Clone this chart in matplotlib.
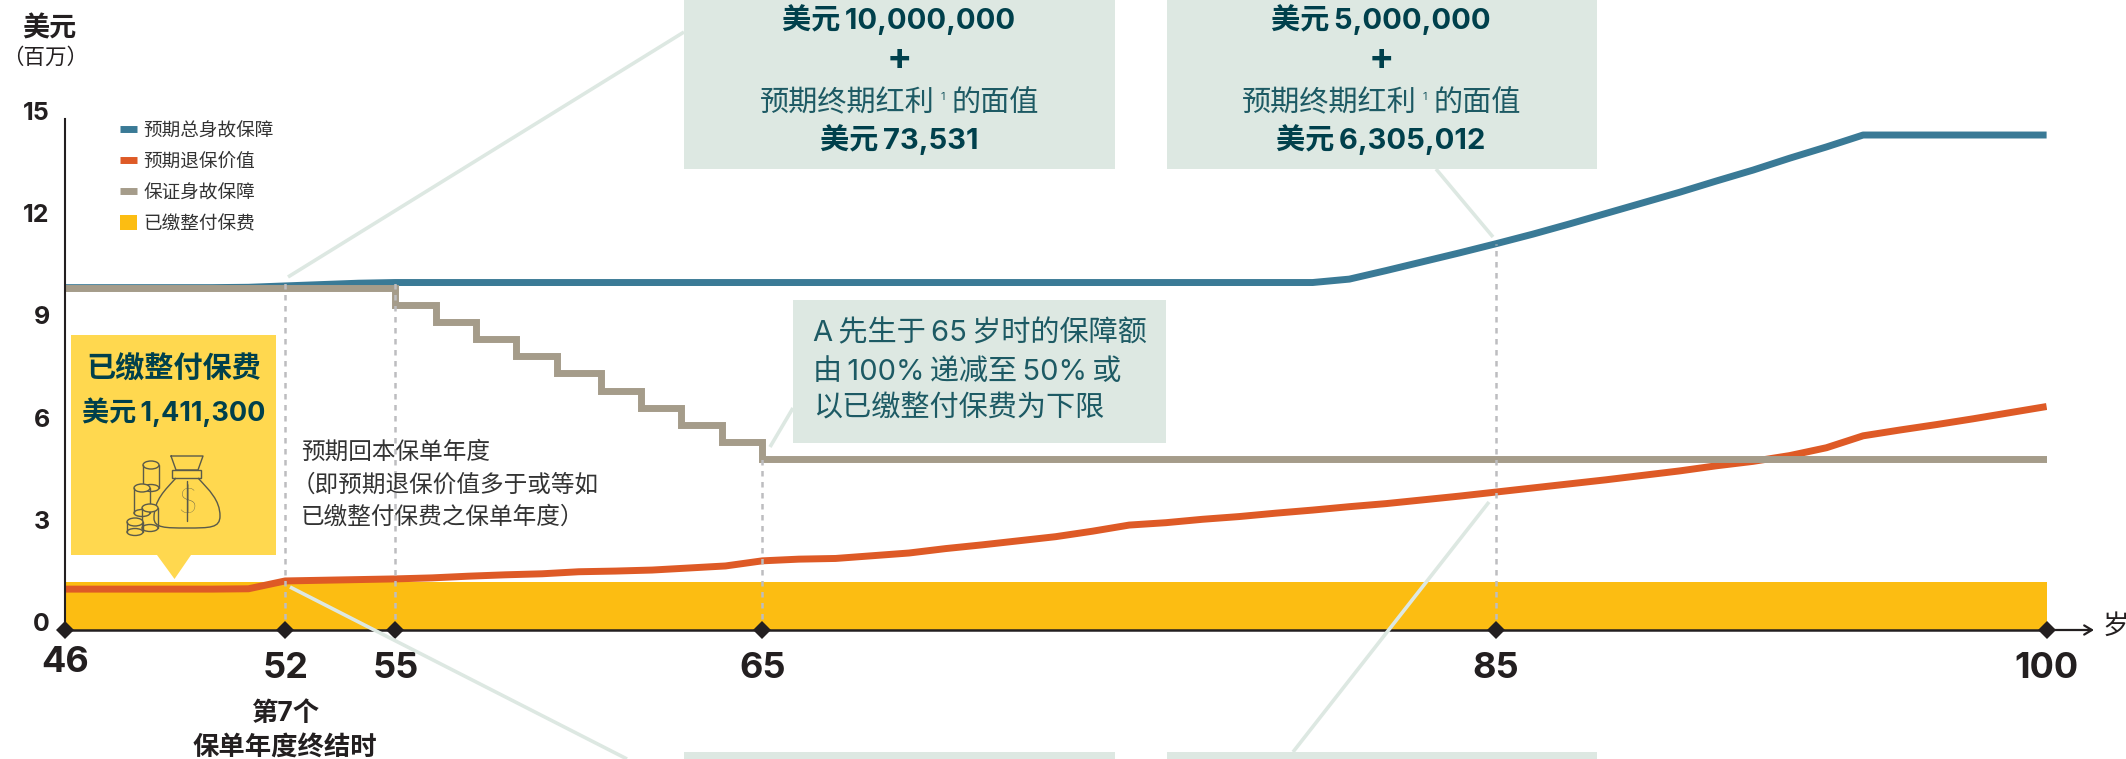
import matplotlib
matplotlib.use("Agg")
import matplotlib.pyplot as plt
import numpy as np
from matplotlib.lines import Line2D
from matplotlib.patches import Rectangle, Polygon, Ellipse, PathPatch, Patch
from matplotlib.path import Path
from matplotlib.transforms import ScaledTranslation

FONT = ['Inter', 'Noto Sans CJK SC', 'DejaVu Sans']
plt.rcParams['font.family'] = FONT

# ---------- data ----------
ages = list(range(46, 101))
total_benefit = [10.05, 10.05, 10.05, 10.05, 10.05, 10.06, 10.1, 10.14, 10.18, 10.2,
                 10.2, 10.2, 10.2, 10.2, 10.2, 10.2, 10.2, 10.2, 10.2, 10.2,
                 10.2, 10.2, 10.2, 10.2, 10.2, 10.2, 10.2, 10.2, 10.2, 10.2,
                 10.2, 10.2, 10.2, 10.2, 10.2, 10.3, 10.55, 10.81, 11.07, 11.34,
                 11.62, 11.92, 12.23, 12.54, 12.85, 13.18, 13.5, 13.85, 14.18, 14.53,
                 14.53, 14.53, 14.53, 14.53, 14.53]
surrender_value = [1.2, 1.2, 1.2, 1.2, 1.2, 1.21, 1.44, 1.46, 1.48, 1.5,
                   1.53, 1.58, 1.62, 1.65, 1.71, 1.73, 1.76, 1.82, 1.88, 2.03,
                   2.08, 2.1, 2.18, 2.26, 2.39, 2.5, 2.62, 2.74, 2.9, 3.08,
                   3.15, 3.25, 3.33, 3.43, 3.52, 3.62, 3.71, 3.82, 3.93, 4.05,
                   4.17, 4.29, 4.41, 4.54, 4.67, 4.82, 4.95, 5.12, 5.35, 5.7,
                   5.87, 6.03, 6.2, 6.38, 6.56]
guarantee_ages = [46, 55, 56.1, 57.2, 58.3, 59.4, 60.6, 61.7, 62.8, 63.9, 65, 100]
guarantee = [10.05, 9.53, 9.03, 8.53, 8.03, 7.53, 7.03, 6.53, 6.03, 5.53, 5.03, 5.03]
premium_ages = [46, 100]
premium = [1.4113, 1.4113]
x_ticks = [46, 52, 55, 65, 85, 100]
y_ticks = [0, 3, 6, 9, 12, 15]
guide_ages = [52, 55, 65, 85]
guide_tops = [10.2, 10.2, 5.03, 11.34]
legend_labels = ['预期总身故保障', '预期退保价值', '保证身故保障', '已缴整付保费']

TEAL = '#3A7A96'; ORANGE = '#DE5A26'; TAUPE = '#A59C8A'; GOLD = '#FCBD12'
YELLOW = '#FFD84F'; PALE = '#DDE8E2'; DARK = '#231F20'; INK = '#00404C'; INK2 = '#1D5A64'

W, H = 2126, 759
fig = plt.figure(figsize=(W / 100, H / 100), dpi=100, facecolor='white')
L, R, T, B = 65, 2046.6, 119, 630
ax = fig.add_axes([L / W, 1 - B / H, (R - L) / W, (B - T) / H], facecolor='none')
ax.set_xlim(46, 100); ax.set_ylim(0, 15)
for s in ('top', 'right'):
    ax.spines[s].set_visible(False)
ax.spines['left'].set_linewidth(1.5); ax.spines['left'].set_color(DARK)
ax.spines['bottom'].set_linewidth(1.8); ax.spines['bottom'].set_color(DARK)

ax.fill_between(premium_ages, 0, premium, color=GOLD, lw=0, zorder=1)
h_total, = ax.plot(ages, total_benefit, color=TEAL, lw=5, solid_capstyle='butt', zorder=2)
h_surr, = ax.plot(ages, surrender_value, color=ORANGE, lw=5, solid_capstyle='butt', zorder=2.1)
h_guar, = ax.plot(guarantee_ages, guarantee, color=TAUPE, lw=5, drawstyle='steps-post',
                  solid_capstyle='butt', solid_joinstyle='miter', zorder=2.2)
for a, t in zip(guide_ages, guide_tops):
    ax.plot([a, a], [0, t], color='#BDBDC0', lw=1.8, dashes=(2.2, 2.2), zorder=3)
ax.plot(x_ticks, [0] * len(x_ticks), 'D', color=DARK, ms=9, mew=0, clip_on=False, zorder=6)

ax.set_yticks(y_ticks); ax.set_xticks(x_ticks)
ax.tick_params(axis='both', length=0)
ax.tick_params(axis='y', pad=11, labelsize=18, labelcolor=DARK)
ax.tick_params(axis='x', pad=16, labelsize=26, labelcolor=DARK)
for lb in ax.get_yticklabels():
    lb.set_fontweight('bold')
    lb.set_transform(lb.get_transform() + ScaledTranslation(0, 0.08, fig.dpi_scale_trans))
for lb, tk in zip(ax.get_xticklabels(), x_ticks):
    lb.set_fontweight('bold')
    if tk == 46:
        lb.set_transform(lb.get_transform() + ScaledTranslation(0, 0.06, fig.dpi_scale_trans))

handles = [Line2D([], [], color=TEAL, lw=5, solid_capstyle='butt'),
           Line2D([], [], color=ORANGE, lw=5, solid_capstyle='butt'),
           Line2D([], [], color=TAUPE, lw=5, solid_capstyle='butt'),
           Patch(facecolor=GOLD, lw=0)]
leg = fig.legend(handles, legend_labels, loc='upper left',
                 bbox_to_anchor=(120 / W, 1 - 122 / H), bbox_transform=fig.transFigure,
                 frameon=False, fontsize=13.4, borderpad=0, borderaxespad=0,
                 handlelength=0.92, handleheight=0.92, handletextpad=0.33, labelspacing=0.68,
                 labelcolor='#333333')
leg.set_zorder(8)

# ---------- overlay in pixels for the callouts ----------
ov = fig.add_axes([0, 0, 1, 1], facecolor='none')
ov.set_xlim(0, W); ov.set_ylim(H, 0); ov.axis('off')

def box(x0, y0, x1, y1, c=PALE, z=5):
    ov.add_patch(Rectangle((x0, y0), x1 - x0, y1 - y0, fc=c, ec='none', zorder=z))

def link(x0, y0, x1, y1):
    ov.plot([x0, x1], [y0, y1], color=PALE, lw=2.6, solid_capstyle='butt', zorder=4)

def txt(x, y, s, size, weight='normal', color=INK, ha='center', **kw):
    ov.text(x, y + 2, s, fontsize=size, fontweight=weight, color=color, ha=ha, va='center',
            family=FONT, zorder=7, **kw)

link(288, 277, 684, 32)
link(290, 587, 627, 759)
link(1436, 169, 1493, 237)
link(770, 447, 793, 408)
link(1489, 502, 1293, 752)

box(684, 0, 1115, 169); box(1167, 0, 1597, 169); box(793, 300, 1166, 443)
box(684, 752, 1115, 759); box(1167, 752, 1597, 759)

THIN = '\u2009'
for cx, a, b in [(899, '美元' + THIN + '10,000,000', '美元' + THIN + '73,531'),
                 (1381, '美元' + THIN + '5,000,000', '美元' + THIN + '6,305,012')]:
    txt(cx, 18, a, 21, 'bold')
    txt(cx, 58, '+', 27, 'bold')
    txt(cx + 36, 102, '预期终期红利', 21, color=INK2, ha='right')
    txt(cx + 44, 95, '1', 8, color=INK2)
    txt(cx + 52, 102, '的面值', 21, color=INK2, ha='left')
    txt(cx, 138, b, 21, 'bold')

txt(813, 332, 'A' + THIN + '先生于' + THIN + '65' + THIN + '岁时的保障额', 21, color=INK2, ha='left')
txt(813, 370, '由' + THIN + '100%' + THIN + '递减至' + THIN + '50%' + THIN + '或', 21, color=INK2, ha='left')
txt(813, 407, '以已缴整付保费为下限', 21, color=INK2, ha='left')

# yellow premium callout
box(71, 335, 276, 555, YELLOW)
ov.add_patch(Polygon([(157, 555), (191, 555), (174.5, 579)], fc=YELLOW, ec='none', zorder=5))
txt(173.5, 368, '已缴整付保费', 21, 'bold')
txt(174, 410, '美元' + THIN + '1,411,300', 19.5, 'bold')

# money-bag icon
ic = dict(color='#5A5A4A', lw=1.0, zorder=7, solid_capstyle='round')
ov.plot([171, 203, 198, 176, 171], [456, 456, 470, 470, 456], **ic)
ov.add_patch(Rectangle((172, 470), 29, 8, fc='none', ec='#5A5A4A', lw=1.0, zorder=7))
V = [(176, 478), (165, 490), (154, 500), (154, 518), (154, 528), (165, 528),
     (187, 528), (210, 528), (220, 528), (220, 516), (220, 500), (209, 490), (198, 478)]
C = [Path.MOVETO] + [Path.CURVE4] * 12
ov.add_patch(PathPatch(Path(V, C), fc='none', ec='#5A5A4A', lw=1.0, zorder=7))
ov.plot([187, 187], [481, 521], **ic)
ov.text(187, 503, '$', fontsize=25, color='#5A5A4A', ha='center', va='center', family='Lato',
        fontweight='light', zorder=7)
for x0, x1, y0, y1 in [(143, 159, 465, 488), (134, 150, 488, 513), (142, 158, 508, 528), (127, 143, 522, 532)]:
    cx, w = (x0 + x1) / 2, x1 - x0
    ov.add_patch(Ellipse((cx, y0), w, 8, fc=YELLOW, ec='#5A5A4A', lw=1.0, zorder=7))
    ov.plot([x0, x0], [y0, y1], **ic); ov.plot([x1, x1], [y0, y1], **ic)
    ov.add_patch(Ellipse((cx, y1), w, 7, fc='none', ec='#5A5A4A', lw=1.0, zorder=6.9))

# axis titles and notes
txt(49, 27, '美元', 19.5, 'bold', color=DARK)
txt(45, 55, '（百万）', 15.5, color=DARK)
for i, s in enumerate(['预期回本保单年度', '（即预期退保价值多于或等如', '已缴整付保费之保单年度）']):
    txt(301 if i != 1 else 292, 451 + 32 * i, s, 17, color='#333333', ha='left')
txt(285, 712, '第7个', 19, 'bold', color=DARK)
txt(285, 747, '保单年度终结时', 19, 'bold', color=DARK)
ov.annotate('', xy=(2094, 630), xytext=(2046, 630),
            arrowprops=dict(arrowstyle='->,head_length=0.55,head_width=0.33', color=DARK, lw=1.6,
                            shrinkA=0, shrinkB=0), zorder=6)
txt(2103, 625, '岁', 19, color=DARK, ha='left')

fig.savefig('out.png', dpi=100, facecolor='white')
